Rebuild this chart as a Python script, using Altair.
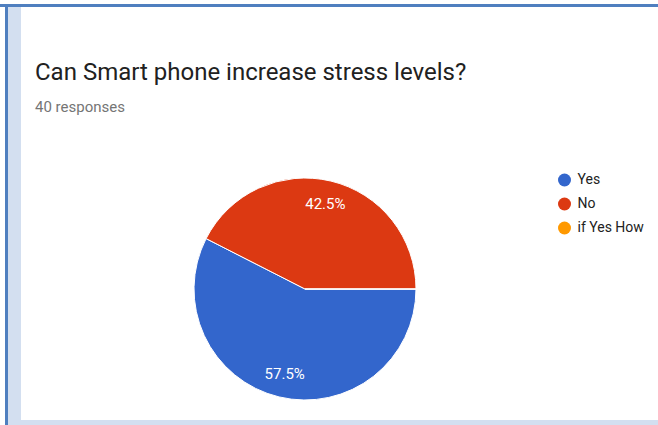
import math
import altair as alt
import pandas as pd

# ---- data ----
answers = ["Yes", "No", "if Yes How"]
counts = [23, 17, 0]
slice_order = [0, 1, 2]
colors = ["#3366cc", "#dc3912", "#ff9900"]
total_responses = 40
title_text = "Can Smart phone increase stress levels?"
subtitle_text = f"{total_responses} responses"

df = pd.DataFrame({"answer": answers, "count": counts, "order": slice_order})

# ---- layout (absolute page pixels, view fills the page) ----
W, H = 658, 425
CX, CY = 305, 289
R = 111
R_LABEL = 87
FONT = "Roboto"

theta_scale = alt.Scale(range=[math.pi / 2, math.pi / 2 + 2 * math.pi])

base = alt.Chart(df).encode(
    theta=alt.Theta("count:Q", stack=True, scale=theta_scale),
    order=alt.Order("order:Q"),
)

pie = base.mark_arc(radius=R, stroke="white", strokeWidth=1).encode(
    x=alt.value(CX),
    y=alt.value(CY),
    color=alt.Color(
        "answer:N",
        scale=alt.Scale(domain=answers, range=colors),
        sort=answers,
        legend=alt.Legend(title=None),
    ),
)

labels = (
    base.transform_calculate(label=f"format(datum.count / {total_responses}, '.1%')")
    .transform_filter("datum.count > 0")
    .mark_text(radius=R_LABEL, font=FONT, fontSize=15, color="white")
    .encode(x=alt.value(CX), y=alt.value(CY), text="label:N")
)

one = pd.DataFrame({"k": [0]})


def frame_rect(x, x2, y, y2, color):
    return (
        alt.Chart(one)
        .mark_rect(color=color)
        .encode(x=alt.value(x), x2=alt.value(x2), y=alt.value(y), y2=alt.value(y2))
    )


def header_text(text, y, size, color):
    return (
        alt.Chart(one)
        .mark_text(align="left", baseline="alphabetic", font=FONT, fontSize=size, color=color)
        .encode(x=alt.value(35), y=alt.value(y), text=alt.value(text))
    )


DARK = "#4f7fbf"
LIGHT = "#d3dff0"
frame = [
    frame_rect(0, W, 4, 7, DARK),
    frame_rect(5, 8, 4, H, DARK),
    frame_rect(8, 21, 7, H, LIGHT),
    frame_rect(8, W, 420, H, LIGHT),
]

title = header_text(title_text, 80, 24, "#212121")
subtitle = header_text(subtitle_text, 112, 15, "#757575")

chart = (
    alt.layer(*frame, title, subtitle, pie, labels)
    .properties(
        width=W,
        height=H,
        padding=0,
        autosize=alt.AutoSizeParams(type="none"),
    )
    .configure_view(stroke=None)
    .configure_legend(
        orient="none",
        legendX=564 - 6.5,
        legendY=180 - 7,
        symbolType="circle",
        symbolSize=169,
        symbolStrokeWidth=0,
        symbolOpacity=1,
        labelFont=FONT,
        labelFontSize=14,
        labelColor="#222222",
        labelOffset=6,
        rowPadding=10,
        padding=0,
    )
)

chart.save("out.html", embed_options={"renderer": "svg", "actions": False})
